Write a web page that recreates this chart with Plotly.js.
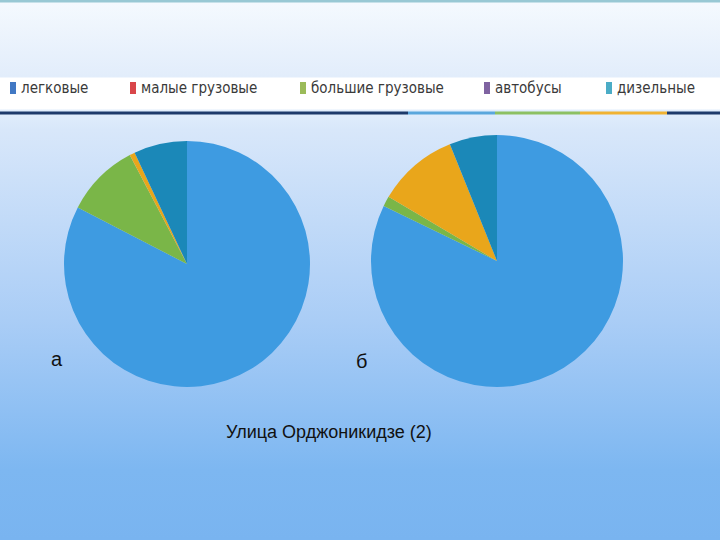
<!DOCTYPE html>
<html>
<head>
<meta charset="utf-8">
<script src="https://cdn.plot.ly/plotly-3.0.1.min.js"></script>
<style>
  html, body { margin: 0; padding: 0; }
  #chart {
    width: 720px; height: 540px;
    background: linear-gradient(180deg,
      #98c8d4 0px, #98c8d4 2px, #f4f9fe 3px, #e2edfb 77px,
      #ffffff 78px, #ffffff 109px,
      #e2eefc 110px, #d8e7fa 130px, #aacdf6 320px, #7db7f1 470px, #79b4f0 540px);
  }
</style>
</head>
<body>
<div id="chart"></div>
<script>
// categories (vehicle types)
const categories = ['легковые', 'малые грузовые', 'большие грузовые', 'автобусы', 'дизельные'];
// shares per street section, %
const valuesA = [82.6, 9.7, 0.7, 0, 7.0];
const valuesB = [82.2, 1.3, 10.4, 0, 6.1];
const pieLabels = ['а', 'б'];
const caption = 'Улица Орджоникидзе (2)';

// slice colours as drawn in the pies
const sliceColors = ['#3e9be1', '#7ab648', '#e9a61b', '#8064a2', '#1b88b8'];
// the slide legend uses its own palette
const legendColors = ['#4178c4', '#d9464a', '#9bbb59', '#7f63a1', '#4bacc6'];
const legendX = [10, 130, 300, 484, 606];

const W = 720, H = 540;
const px = x => x / W;
const py = y => 1 - y / H;

const pieBase = {
  type: 'pie',
  labels: categories,
  sort: false,
  direction: 'clockwise',
  rotation: 0,
  textinfo: 'none',
  hoverinfo: 'label+percent',
  showlegend: false,
  marker: { colors: sliceColors, line: { width: 0 } },
};

const data = [
  Object.assign({}, pieBase, {
    values: valuesA,
    domain: { x: [px(64), px(310)], y: [py(387), py(141)] },
  }),
  Object.assign({}, pieBase, {
    values: valuesB,
    domain: { x: [px(371), px(623)], y: [py(387), py(135)] },
  }),
];

const shapes = [];
const annotations = [];

// legend strip: colour swatches + labels
categories.forEach((c, i) => {
  shapes.push({
    type: 'rect', xref: 'paper', yref: 'paper',
    x0: px(legendX[i]), x1: px(legendX[i] + 6),
    y0: py(94), y1: py(82),
    fillcolor: legendColors[i], line: { width: 0 },
  });
  annotations.push({
    text: c, xref: 'paper', yref: 'paper',
    x: px(legendX[i] + 9), y: py(88),
    xanchor: 'left', yanchor: 'middle', showarrow: false,
    font: { family: 'DejaVu Sans Condensed, Liberation Sans Narrow, sans-serif', size: 15, color: '#3a3a3a' },
  });
});

// coloured rule under the legend
const ruleSegs = [[0, 408, '#1d3a6b'], [408, 495, '#5aa7dd'], [495, 580, '#8cc063'], [580, 667, '#f0b232'], [667, 720, '#1d3a6b']];
ruleSegs.forEach(s => {
  shapes.push({
    type: 'rect', xref: 'paper', yref: 'paper',
    x0: px(s[0]), x1: px(s[1]), y0: py(114.5), y1: py(111.5),
    fillcolor: s[2], line: { width: 0 },
  });
});

// pie captions
const labelPos = [[57, 359], [361, 361]];
pieLabels.forEach((t, i) => {
  annotations.push({
    text: t, xref: 'paper', yref: 'paper',
    x: px(labelPos[i][0]), y: py(labelPos[i][1]),
    xanchor: 'center', yanchor: 'middle', showarrow: false,
    font: { family: 'Liberation Sans, Arial, sans-serif', size: 20, color: '#111' },
  });
});

annotations.push({
  text: caption, xref: 'paper', yref: 'paper',
  x: px(329), y: py(432),
  xanchor: 'center', yanchor: 'middle', showarrow: false,
  font: { family: 'Liberation Sans, Arial, sans-serif', size: 18, color: '#111' },
});

const layout = {
  width: W, height: H,
  margin: { l: 0, r: 0, t: 0, b: 0 },
  paper_bgcolor: 'rgba(0,0,0,0)',
  plot_bgcolor: 'rgba(0,0,0,0)',
  showlegend: false,
  shapes: shapes,
  annotations: annotations,
};

Plotly.newPlot('chart', data, layout, { displayModeBar: false, staticPlot: true });
</script>
</body>
</html>
